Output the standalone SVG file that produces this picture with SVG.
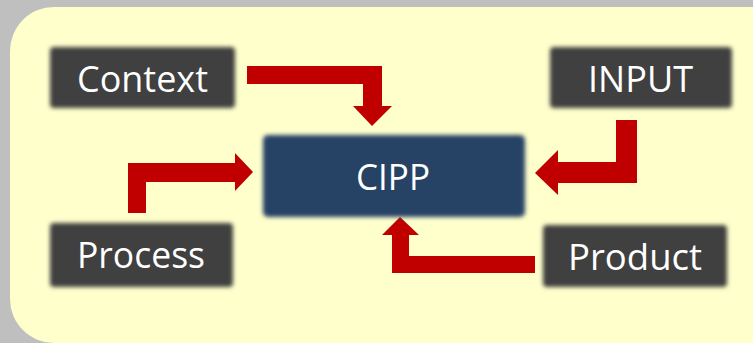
<svg xmlns="http://www.w3.org/2000/svg" width="753" height="343" viewBox="0 0 753 343">
  <defs>
    <filter id="soft" x="-10%" y="-20%" width="120%" height="140%">
      <feGaussianBlur stdDeviation="2.2"/>
    </filter>
    <style>
      .box { fill: #404040; filter: url(#soft); }
      .core { fill: #284265; filter: url(#soft); }
      .label { fill: #ffffff; font-family: "Open Sans", "Noto Sans", sans-serif; font-size: 36px; text-anchor: middle; }
      .arrow { fill: #c00000; stroke: none; }
    </style>
  </defs>

  <!-- backdrop -->
  <rect x="0" y="0" width="753" height="343" fill="#bfbfbf"/>
  <rect x="10" y="7" width="786" height="336" rx="44" ry="44" fill="#ffffcc"/>

  <!-- connectors -->
  <g id="connectors">
    <!-- Context -> CIPP -->
    <polygon class="arrow" points="247,66 382,66 382,106 392,106 372,126 353,106 363,106 363,84 247,84"/>
    <!-- INPUT -> CIPP -->
    <polygon class="arrow" points="616,120 637,120 637,183 558,183 558,195 535,173 558,150 558,162 616,162"/>
    <!-- Process -> CIPP -->
    <polygon class="arrow" points="128,213 128,163 235,163 235,153 253,172 235,191 235,182 146,182 146,213"/>
    <!-- Product -> CIPP -->
    <polygon class="arrow" points="535,256 535,273 392,273 392,235 382,235 400,217 419,235 409,235 409,256"/>
  </g>

  <g id="node-context">
    <rect class="box" x="50" y="47" width="185" height="61" rx="4"/>
    <text class="label" x="142.5" y="92" textLength="131" lengthAdjust="spacingAndGlyphs">Context</text>
  </g>

  <g id="node-input">
    <rect class="box" x="550" y="47" width="182" height="61" rx="4"/>
    <text class="label" x="640.5" y="92" textLength="105" lengthAdjust="spacingAndGlyphs">INPUT</text>
  </g>

  <g id="node-cipp">
    <rect class="core" x="263" y="135" width="262" height="82" rx="5"/>
    <text class="label" x="393" y="190" textLength="74" lengthAdjust="spacingAndGlyphs">CIPP</text>
  </g>

  <g id="node-process">
    <rect class="box" x="50" y="223" width="183" height="64" rx="4"/>
    <text class="label" x="141" y="268" textLength="128" lengthAdjust="spacingAndGlyphs">Process</text>
  </g>

  <g id="node-product">
    <rect class="box" x="543" y="225" width="184" height="62" rx="4"/>
    <text class="label" x="635" y="270" textLength="134" lengthAdjust="spacingAndGlyphs">Product</text>
  </g>
</svg>
